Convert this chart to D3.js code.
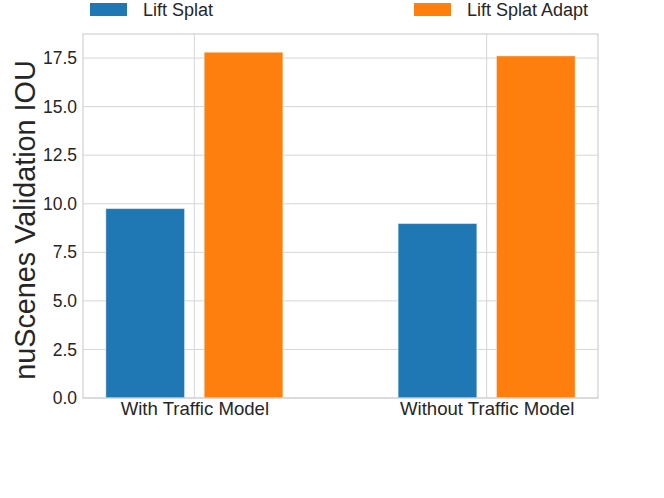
<!DOCTYPE html>
<html>
<head>
<meta charset="utf-8">
<script src="https://cdn.jsdelivr.net/npm/d3@7"></script>
<style>
body { margin: 0; background: #fff; }
text { font-family: "Liberation Sans", Arial, sans-serif; fill: #262626; }
</style>
</head>
<body>
<script>
// chart data
var categories = ["With Traffic Model", "Without Traffic Model"];
var seriesNames = ["Lift Splat", "Lift Splat Adapt"];
var liftSplat = [9.75, 8.98];
var liftSplatAdapt = [17.8, 17.61];
var yTicks = [0, 2.5, 5, 7.5, 10, 12.5, 15, 17.5];
var colors = ["#1f77b4", "#ff7f0e"];

var width = 664, height = 498;
var plotLeft = 83, plotRight = 598, plotTop = 34, plotBottom = 398;

var svg = d3.select("body").append("svg")
	.attr("width", width)
	.attr("height", height);

var x = d3.scalePoint()
	.domain(categories)
	.range([plotLeft, plotRight])
	.padding(0.381);

var x1 = d3.scaleBand()
	.domain(seriesNames)
	.range([-88.5, 88.5])
	.paddingInner(0.2);

var y = d3.scaleLinear()
	.domain([0, 18.74])
	.range([plotBottom, plotTop]);

// grid lines
svg.append("g")
	.selectAll("line.hgrid")
	.data(yTicks)
	.enter().append("line")
		.attr("class", "hgrid")
		.attr("x1", plotLeft)
		.attr("x2", plotRight)
		.attr("y1", function(d){ return y(d); })
		.attr("y2", function(d){ return y(d); })
		.attr("stroke", "#d6d6d6")
		.attr("stroke-width", 1);

svg.append("g")
	.selectAll("line.vgrid")
	.data(categories)
	.enter().append("line")
		.attr("class", "vgrid")
		.attr("x1", function(d){ return x(d); })
		.attr("x2", function(d){ return x(d); })
		.attr("y1", plotTop)
		.attr("y2", plotBottom)
		.attr("stroke", "#d6d6d6")
		.attr("stroke-width", 1);

// bars
var rows = [];
categories.forEach(function(c, i){
	rows.push({cat: c, s: seriesNames[0], v: liftSplat[i], k: 0});
	rows.push({cat: c, s: seriesNames[1], v: liftSplatAdapt[i], k: 1});
});

svg.append("g")
	.selectAll("rect.bar")
	.data(rows)
	.enter().append("rect")
		.attr("class", "bar")
		.attr("x", function(d){ return x(d.cat) + x1(d.s); })
		.attr("width", x1.bandwidth())
		.attr("y", function(d){ return y(d.v); })
		.attr("height", function(d){ return y(0) - y(d.v); })
		.attr("fill", function(d){ return colors[d.k]; })
		.attr("stroke", "#ffffff")
		.attr("stroke-opacity", 0.4)
		.attr("stroke-width", 1);

// frame
svg.append("rect")
	.attr("x", plotLeft)
	.attr("y", plotTop)
	.attr("width", plotRight - plotLeft)
	.attr("height", plotBottom - plotTop)
	.attr("fill", "none")
	.attr("stroke", "#d0d0d0")
	.attr("stroke-width", 1.2);

// y axis
var yAxis = svg.append("g")
	.attr("transform", "translate(" + plotLeft + ",0)")
	.call(d3.axisLeft(y).tickValues(yTicks).tickSize(0).tickPadding(6)
		.tickFormat(d3.format(".1f")));
yAxis.select(".domain").remove();
yAxis.selectAll("text")
	.style("font-size", "17.5px")
	.attr("fill", "#262626");

// x axis
var xAxis = svg.append("g")
	.attr("transform", "translate(0," + plotBottom + ")")
	.call(d3.axisBottom(x).tickSize(0).tickPadding(4));
xAxis.select(".domain").remove();
xAxis.selectAll("text")
	.style("font-size", "18.6px")
	.attr("fill", "#262626");

// y label
svg.append("text")
	.attr("transform", "translate(35," + ((plotTop + plotBottom) / 2 + 4) + ") rotate(-90)")
	.attr("text-anchor", "middle")
	.style("font-size", "28.8px")
	.text("nuScenes Validation IOU");

// legend
var legendX = [90, 414];
var legend = svg.append("g")
	.selectAll("g.leg")
	.data(seriesNames)
	.enter().append("g")
		.attr("class", "leg")
		.attr("transform", function(d, i){ return "translate(" + legendX[i] + ",0)"; });
legend.append("rect")
	.attr("x", 0)
	.attr("y", 3)
	.attr("width", 37)
	.attr("height", 13)
	.attr("fill", function(d, i){ return colors[i]; });
legend.append("text")
	.attr("x", 53)
	.attr("y", 16)
	.style("font-size", "18px")
	.text(function(d){ return d; });
</script>
</body>
</html>
